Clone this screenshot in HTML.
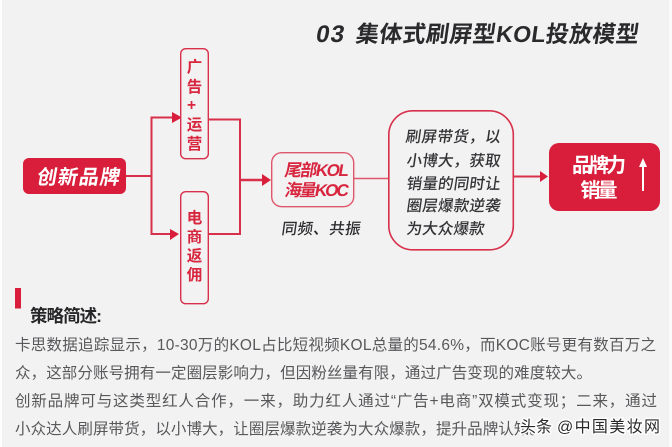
<!DOCTYPE html>
<html><head><meta charset="utf-8"><style>
html,body{margin:0;padding:0;background:#fff}
svg{display:block;filter:blur(.35px)}
text{font-family:"Liberation Sans","Noto Sans CJK SC",sans-serif}
</style></head><body>
<svg width="672" height="447" viewBox="0 0 672 447" xmlns="http://www.w3.org/2000/svg">
<rect x="2" y="0" width="667" height="447" fill="#f2f2f3"/>
<rect x="669" y="0" width="3" height="447" fill="#fafafa"/>
<text transform="translate(315,42) skewX(-10)" font-size="24" font-weight="700" fill="#2a2a2c" textLength="28">03</text>
<text transform="translate(355,42) skewX(-8)" font-size="23" font-weight="700" fill="#2a2a2c" textLength="283">集体式刷屏型KOL投放模型</text>

<g fill="none" stroke="#d8304a" stroke-width="2">
<path d="M126 176H151.500V117.500H174"/>
<path d="M151.500 176V234H172"/>
<path d="M208 119.500H240V234H208"/>
<path d="M240 180H266" stroke-width="2.500"/>
<path d="M354 178.500H388" stroke="#e0566a" stroke-width="1.500"/>
<path d="M514 176.500H542"/>
</g>
<g fill="#d81e3a">
<path d="M172 112L182 117.500L172 123Z"/>
<path d="M170 229L179 234L170 240Z"/>
<path d="M262 174L271 180L262 186Z"/>
<path d="M540 171L548 176.500L540 182Z"/>
</g>

<rect x="23" y="158" width="103" height="36" rx="6" fill="#d81e3a"/>
<text transform="translate(36,184) skewX(-10)" font-size="20" font-weight="700" fill="#fff" textLength="83">创新品牌</text>

<rect x="180.700" y="48.700" width="27.600" height="110" rx="5" fill="#f2f2f3" stroke="#d8304a" stroke-width="1.400"/>
<g font-size="15.500" font-weight="700" fill="#d8263f" text-anchor="middle">
<text x="194.500" y="72">广</text>
<text x="194.500" y="92">告</text>
<text x="191.500" y="110">+</text>
<text x="194.500" y="130">运</text>
<text x="194.500" y="149">营</text>
<text x="194.500" y="223">电</text>
<text x="194.500" y="242">商</text>
<text x="194.500" y="261">返</text>
<text x="194.500" y="280">佣</text>
</g>
<rect x="180.700" y="191.700" width="27.600" height="112" rx="5" fill="none" stroke="#d8304a" stroke-width="1.400"/>

<rect x="271.700" y="152.700" width="82" height="54" rx="10" fill="#f2f2f3" stroke="#e0566a" stroke-width="1.400"/>
<g font-size="17" font-weight="700" fill="#d8263f">
<text transform="translate(284,176) skewX(-10)" textLength="64">尾部KOL</text>
<text transform="translate(284,196) skewX(-10)" textLength="64">海量KOC</text>
</g>
<text transform="translate(281,234) skewX(-8)" font-size="15.500" font-weight="500" fill="#2e2e30" textLength="79">同频、共振</text>

<rect x="388.800" y="110.800" width="124.500" height="139" rx="24" fill="#f2f2f3" stroke="#d8304a" stroke-width="1.600"/>
<g font-size="15.500" font-weight="500" fill="#333335">
<text transform="translate(405,142) skewX(-8)" textLength="95">刷屏带货，以</text>
<text transform="translate(406,166) skewX(-8)" textLength="94">小博大，获取</text>
<text transform="translate(406,189) skewX(-8)" textLength="94">销量的同时让</text>
<text transform="translate(406,211) skewX(-8)" textLength="94">圈层爆款逆袭</text>
<text transform="translate(406,234) skewX(-8)" textLength="78">为大众爆款</text>
</g>

<rect x="549" y="143" width="111" height="68" rx="10" fill="#d81e3a"/>
<text x="599" y="172" font-size="20" font-weight="700" fill="#fff" text-anchor="middle" textLength="54">品牌力</text>
<text x="599" y="197" font-size="20" font-weight="700" fill="#fff" text-anchor="middle" textLength="37">销量</text>
<path d="M643 166V191" stroke="#fff" stroke-width="2" fill="none"/>
<path d="M639 167L643 158L647 167Z" fill="#fff"/>

<rect x="15" y="288" width="6" height="20.500" fill="#d81e3a"/>
<text x="30" y="322" font-size="17.500" font-weight="700" fill="#262628" textLength="72">策略简述:</text>
<g font-size="15.500" fill="#58585a">
<text x="15" y="350" textLength="641">卡思数据追踪显示，10-30万的KOL占比短视频KOL总量的54.6%，而KOC账号更有数百万之</text>
<text x="15" y="378" textLength="577">众，这部分账号拥有一定圈层影响力，但因粉丝量有限，通过广告变现的难度较大。</text>
<text x="15" y="406" textLength="642">创新品牌可与这类型红人合作，一来，助力红人通过“广告+电商”双模式变现；二来，通过</text>
<text x="15" y="434" textLength="530">小众达人刷屏带货，以小博大，让圈层爆款逆袭为大众爆款，提升品牌认知。</text>
</g>
<g font-size="16" fill="#2a2a2a" stroke="#fff" stroke-width="3" paint-order="stroke" stroke-linejoin="round">
<text x="520" y="432">头条</text>
<text x="557" y="432" textLength="103">@中国美妆网</text>
</g>
</svg>
</body></html>
